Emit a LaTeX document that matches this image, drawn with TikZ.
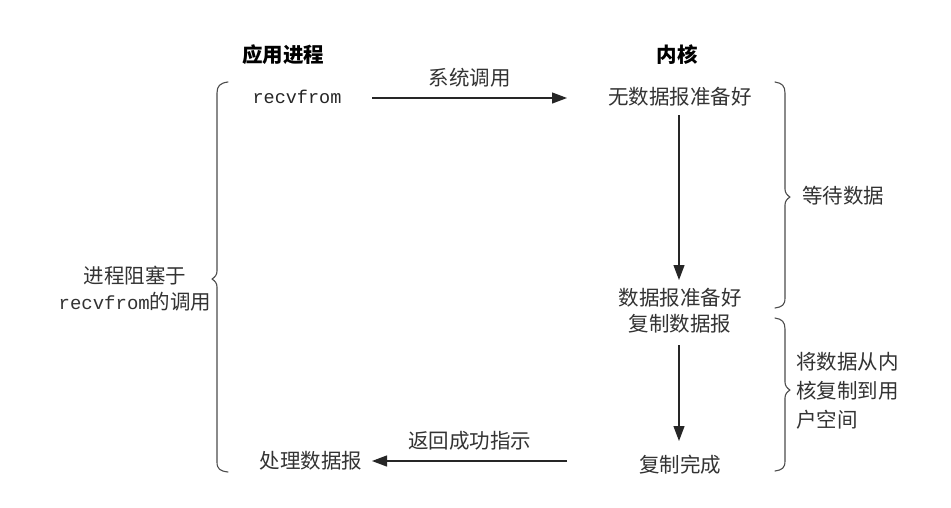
\documentclass[tikz,border=0pt]{standalone}
\usepackage{fontspec}
\setmainfont{Noto Sans CJK SC}
\newfontfamily\monof{Liberation Mono}
\usetikzlibrary{arrows.meta}
\begin{document}
\begin{tikzpicture}[x=1pt,y=-1pt,
  txt/.style={font=\fontsize{20.5}{26}\selectfont, text=black!80, inner sep=0pt},
  ttl/.style={font=\fontsize{20.5}{26}\selectfont\bfseries, inner sep=0pt},
  mono/.style={font=\fontsize{18.5}{26}\selectfont\monof, text=black!85, inner sep=0pt},
  arr/.style={line width=1.2pt, black!85, -{Triangle[length=15pt,width=11pt]}},
  brc/.style={line width=1.1pt, black!70, line cap=round, line join=round}]
\useasboundingbox[fill=white] (0,0) rectangle (951,507);
\node[ttl] (tapp) at (283,55) {应用进程};
\node[ttl] (tker) at (677,55) {内核};
\node[mono] (recv) at (297,97) {recvfrom};
\node[txt] (nodg) at (680,97) {无数据报准备好};
\node[txt] (ready) at (680,298) {数据报准备好};
\node[txt] (copy) at (680,324) {复制数据报};
\node[txt] (done) at (680,465) {复制完成};
\node[txt] (proc) at (311,461) {处理数据报};
\coordinate (a1s) at (372,98);
\coordinate (a1e) at (567,98);
\coordinate (a4s) at (567,461);
\coordinate (a4e) at (372,461);
\draw[arr] (a1s) -- node[txt, above=10pt] (syscall) {系统调用} (a1e);
\draw[arr] (679,115) -- (679,280);
\draw[arr] (679,345) -- (679,441);
\draw[arr] (a4s) -- node[txt, above=10pt] (ret) {返回成功指示} (a4e);
% left brace
\draw[brc] (228,82) .. controls (220,83) and (217,86) .. (217,93)
  -- (217,271) .. controls (217,275) and (215,277) .. (212,279)
  .. controls (215,281) and (217,283) .. (217,287)
  -- (217,462) .. controls (217,469) and (220,471) .. (228,472);
% right brace 1
\draw[brc] (775,82) .. controls (782,83) and (785,86) .. (785,93)
  -- (785,189) .. controls (785,193) and (787,195) .. (790,197)
  .. controls (787,199) and (785,201) .. (785,205)
  -- (785,298) .. controls (785,305) and (782,307) .. (775,308);
% right brace 2
\draw[brc] (775,318) .. controls (782,319) and (785,322) .. (785,329)
  -- (785,382) .. controls (785,386) and (787,388) .. (790,390)
  .. controls (787,392) and (785,394) .. (785,398)
  -- (785,461) .. controls (785,468) and (782,470) .. (775,471);
\node[txt, align=center] (blk) at (135,289) {进程阻塞于\\{\monof\fontsize{19}{26}\selectfont recvfrom}的调用};
\node[txt] (wait) at (843,196) {等待数据};
\node[txt, align=left, anchor=west, font=\fontsize{20.5}{29}\selectfont] (cpk) at (796,391) {将数据从内\\核复制到用\\户空间};
\end{tikzpicture}
\end{document}
